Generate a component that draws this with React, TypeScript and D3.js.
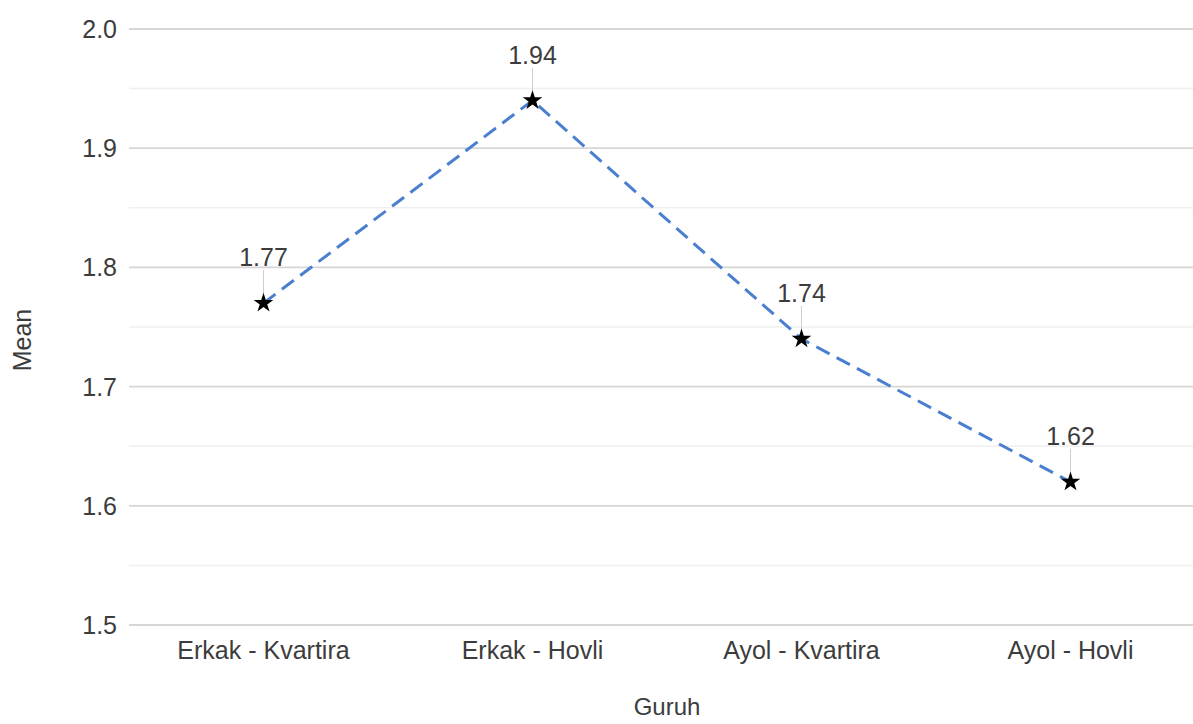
import React from "react";
import * as d3 from "d3";

const categories = ["Erkak - Kvartira", "Erkak - Hovli", "Ayol - Kvartira", "Ayol - Hovli"];
const means = [1.77, 1.94, 1.74, 1.62];
const majorTicks = [1.5, 1.6, 1.7, 1.8, 1.9, 2.0];
const minorTicks = [1.55, 1.65, 1.75, 1.85, 1.95];

const W = 1193;
const H = 724;
const FONT = "'Liberation Sans', Arial, sans-serif";

export default function App() {
  const x = d3.scaleBand<string>().domain(categories).range([129, 1205]).padding(0);
  const y = d3.scaleLinear().domain([1.5, 2.0]).range([625, 29]);
  const cx = (c: string) => (x(c) as number) + x.bandwidth() / 2;
  const line = d3
    .line<number>()
    .x((_, i) => cx(categories[i]))
    .y((d) => y(d));
  const star = d3.symbol().type(d3.symbolStar).size(120)() as string;

  return (
    <svg
      width={W}
      height={H}
      style={{ position: "absolute", left: 0, top: 0, background: "#fff" }}
      fontFamily={FONT}
    >
      {minorTicks.map((t) => (
        <line key={"m" + t} x1={129} x2={W} y1={y(t)} y2={y(t)} stroke="#efefef" strokeWidth={1.5} />
      ))}
      {majorTicks.map((t) => (
        <g key={"t" + t}>
          <line x1={129} x2={W} y1={y(t)} y2={y(t)} stroke="#d6d6d6" strokeWidth={1.8} />
          <text x={117} y={y(t)} dy="0.36em" textAnchor="end" fontSize={25} fill="#3c3c3c">
            {d3.format(".1f")(t)}
          </text>
        </g>
      ))}
      {categories.map((c) => (
        <text key={c} x={cx(c)} y={659} textAnchor="middle" fontSize={25} fill="#3c3c3c">
          {c}
        </text>
      ))}
      <text x={667} y={715} textAnchor="middle" fontSize={24} fill="#3c3c3c">
        Guruh
      </text>
      <text
        transform={`translate(31,340) rotate(-90)`}
        textAnchor="middle"
        fontSize={25}
        fill="#3c3c3c"
      >
        Mean
      </text>
      <path
        d={line(means) as string}
        fill="none"
        stroke="#4a7fd0"
        strokeWidth={3}
        strokeDasharray="15,8"
      />
      {means.map((v, i) => {
        const px = cx(categories[i]);
        const py = y(v);
        return (
          <g key={"p" + i}>
            <line x1={px} x2={px} y1={py - 33} y2={py - 9} stroke="#cfcfcf" strokeWidth={1} />
            <text x={px} y={py - 37} textAnchor="middle" fontSize={25} fill="#3c3c3c">
              {d3.format(".2f")(v)}
            </text>
            <path d={star} transform={`translate(${px},${py})`} fill="#000" />
          </g>
        );
      })}
    </svg>
  );
}
